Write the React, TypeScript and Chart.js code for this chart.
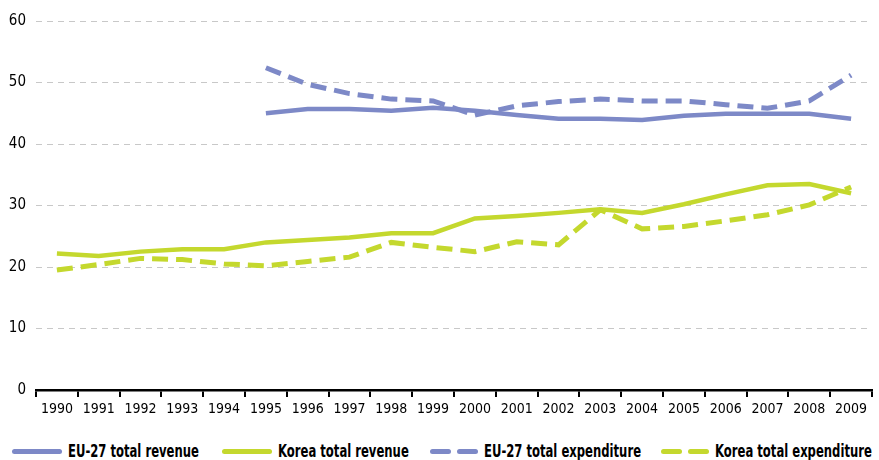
import React, { useEffect, useRef } from "react";
import { Chart, registerables } from "chart.js";

Chart.register(...registerables);

const years = ["1990","1991","1992","1993","1994","1995","1996","1997","1998","1999","2000","2001","2002","2003","2004","2005","2006","2007","2008","2009"];
const euRevenue = [null,null,null,null,null,45.0,45.7,45.7,45.4,45.9,45.4,44.7,44.1,44.1,43.9,44.6,44.9,44.9,44.9,44.1];
const koreaRevenue = [22.2,21.8,22.5,22.9,22.9,24.0,24.4,24.8,25.5,25.5,27.9,28.3,28.8,29.4,28.8,30.2,31.8,33.3,33.5,32.0];
const euExpenditure = [null,null,null,null,null,52.4,49.7,48.2,47.3,47.0,44.7,46.2,46.9,47.3,47.0,47.0,46.4,45.8,47.0,51.2];
const koreaExpenditure = [19.5,20.4,21.4,21.2,20.5,20.2,20.9,21.6,24.0,23.2,22.5,24.1,23.6,29.3,26.2,26.6,27.5,28.5,30.1,33.0];
const yTicks = [0, 10, 20, 30, 40, 50, 60];
const seriesLabels = ["EU-27 total revenue", "Korea total revenue", "EU-27 total expenditure", "Korea total expenditure"];

const BLUE = "#7d89c7";
const GREEN = "#c4d82e";
const FONT = "'DejaVu Sans Condensed', 'Liberation Sans Narrow', sans-serif";

const legendLeft = [12, 222, 430, 661];

export default function App() {
  const ref = useRef<HTMLCanvasElement | null>(null);

  useEffect(() => {
    if (!ref.current) return;
    const chart = new Chart(ref.current, {
      type: "line",
      data: {
        labels: years,
        datasets: [
          { label: seriesLabels[0], data: euRevenue, borderColor: BLUE, borderWidth: 4.5, pointRadius: 0, fill: false, tension: 0 },
          { label: seriesLabels[1], data: koreaRevenue, borderColor: GREEN, borderWidth: 4.5, pointRadius: 0, fill: false, tension: 0 },
          { label: seriesLabels[2], data: euExpenditure, borderColor: BLUE, borderWidth: 5, borderDash: [16, 8], pointRadius: 0, fill: false, tension: 0 },
          { label: seriesLabels[3], data: koreaExpenditure, borderColor: GREEN, borderWidth: 5, borderDash: [16, 8], pointRadius: 0, fill: false, tension: 0 },
        ],
      },
      options: {
        animation: false,
        responsive: false,
        maintainAspectRatio: false,
        layout: { padding: { top: 21, right: 7, left: 0, bottom: 0 } },
        plugins: { legend: { display: false }, tooltip: { enabled: false } },
        scales: {
          x: {
            offset: true,
            grid: { offset: true, drawOnChartArea: false, drawTicks: true, tickLength: 7, color: "#000", lineWidth: 2 },
            border: { display: true, color: "#000", width: 2.5 },
            ticks: { color: "#000", font: { family: FONT, size: 14 }, padding: 4, maxRotation: 0, autoSkip: false },
            afterFit: (s: any) => { s.height = 40; },
          },
          y: {
            min: 0,
            max: 60,
            afterBuildTicks: (s: any) => { s.ticks = yTicks.map((v) => ({ value: v })); },
            grid: { color: "#c8c8c8", lineWidth: 1, drawTicks: false },
            border: { display: false, dash: [6, 5] },
            ticks: { color: "#000", font: { family: FONT, size: 15 }, padding: 10 },
            afterFit: (s: any) => { s.width = 36; },
          },
        },
      },
    });
    return () => chart.destroy();
  }, []);

  return (
    <div style={{ position: "absolute", left: 0, top: 0, width: 879, height: 460, background: "#fff" }}>
      <canvas ref={ref} width={879} height={430} style={{ display: "block", width: 879, height: 430 }} />
      {seriesLabels.map((lab, i) => {
        const color = i % 2 === 0 ? BLUE : GREEN;
        const dashed = i >= 2;
        return (
          <div key={lab} style={{ position: "absolute", left: legendLeft[i], top: 440, height: 22, display: "flex", alignItems: "center" }}>
            {dashed ? (
              <div style={{ display: "flex", width: 48 }}>
                <div style={{ width: 21, height: 5, borderRadius: 3, background: color }} />
                <div style={{ width: 6 }} />
                <div style={{ width: 21, height: 5, borderRadius: 3, background: color }} />
              </div>
            ) : (
              <div style={{ width: 50, height: 5, borderRadius: 3, background: color }} />
            )}
            <span style={{ marginLeft: 6, display: "inline-block", transform: "scaleX(0.76)", transformOrigin: "left center", fontFamily: FONT, fontWeight: "bold", fontSize: 17, color: "#000", whiteSpace: "nowrap" }}>{lab}</span>
          </div>
        );
      })}
    </div>
  );
}
